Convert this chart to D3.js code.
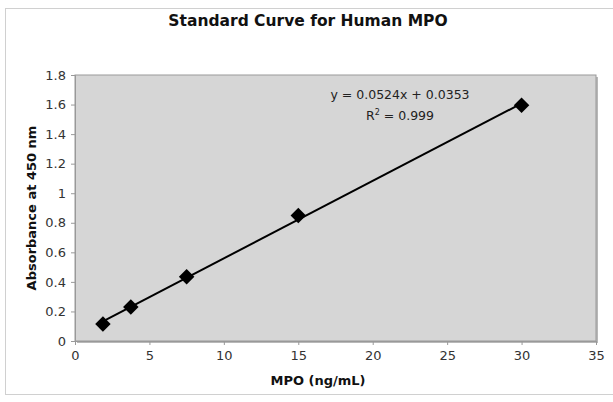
<!DOCTYPE html>
<html>
<head>
<meta charset="utf-8">
<script src="https://cdn.jsdelivr.net/npm/d3@7"></script>
<style>
  body { margin: 0; background: #fff; }
  text { font-family: "DejaVu Sans", Verdana, sans-serif; }
</style>
</head>
<body>
<svg id="svg" width="613" height="402"></svg>
<script>
// standard concentrations and measured absorbance
var conc = [1.875, 3.75, 7.5, 15, 30];
var absorb = [0.115, 0.23, 0.435, 0.85, 1.595];
var xTicks = [0, 5, 10, 15, 20, 25, 30, 35];
var yTicks = [0, 0.2, 0.4, 0.6, 0.8, 1, 1.2, 1.4, 1.6, 1.8];
var slope = 0.0524, intercept = 0.0353;

var svg = d3.select("#svg");
var L = 75, R = 596, T = 75, B = 341;

var x = d3.scaleLinear().domain([0, 35]).range([L, R]);
var y = d3.scaleLinear().domain([0, 1.8]).range([B, T]);

// chart frame
svg.append("rect")
    .attr("x", 5.5).attr("y", 8.5)
    .attr("width", 620).attr("height", 386)
    .attr("fill", "#fff")
    .attr("stroke", "#d0d0d0");

// plot area
svg.append("rect")
    .attr("x", L + 2).attr("y", T + 2)
    .attr("width", R - L).attr("height", B - T)
    .attr("fill", "#b8b8b8");
svg.append("rect")
    .attr("x", L).attr("y", T)
    .attr("width", R - L).attr("height", B - T)
    .attr("fill", "#d6d6d6")
    .attr("stroke", "#999")
    .attr("stroke-width", 1);

// axes
var xAxis = svg.append("g")
    .attr("transform", "translate(0," + B + ")")
    .call(d3.axisBottom(x).tickValues(xTicks).tickSize(4).tickPadding(6));
var yAxis = svg.append("g")
    .attr("transform", "translate(" + L + ",0)")
    .call(d3.axisLeft(y).tickValues(yTicks).tickSize(4).tickPadding(5)
        .tickFormat(d3.format("~g")));
[xAxis, yAxis].forEach((g) => {
    g.select(".domain").attr("stroke", "#999");
    g.selectAll(".tick line").attr("stroke", "#999");
    g.selectAll(".tick text")
        .attr("fill", "#333")
        .style("font-size", "13px");
});

// trendline over the data range
var ext = d3.extent(conc);
svg.append("line")
    .attr("x1", x(ext[0])).attr("y1", y(slope * ext[0] + intercept))
    .attr("x2", x(ext[1])).attr("y2", y(slope * ext[1] + intercept))
    .attr("stroke", "#000")
    .attr("stroke-width", 2);

// diamond markers
svg.append("g").selectAll("path")
    .data(conc)
    .enter()
    .append("path")
    .attr("d", d3.symbol().type(d3.symbolSquare).size(120))
    .attr("transform", (d, i) => "translate(" + x(d) + "," + y(absorb[i]) + ") rotate(45)")
    .attr("fill", "#000");

// title and labels
svg.append("text")
    .attr("x", 308).attr("y", 26)
    .attr("text-anchor", "middle")
    .style("font-size", "15.5px").style("font-weight", "bold")
    .attr("fill", "#111")
    .text("Standard Curve for Human MPO");

svg.append("text")
    .attr("x", 318).attr("y", 385)
    .attr("text-anchor", "middle")
    .style("font-size", "13px").style("font-weight", "bold")
    .attr("fill", "#111")
    .text("MPO (ng/mL)");

svg.append("text")
    .attr("transform", "translate(36," + ((T + B) / 2) + ") rotate(-90)")
    .attr("text-anchor", "middle")
    .style("font-size", "13px").style("font-weight", "bold")
    .attr("fill", "#111")
    .text("Absorbance at 450 nm");

// equation
svg.append("text")
    .attr("x", 400).attr("y", 99)
    .attr("text-anchor", "middle")
    .style("font-size", "12.5px")
    .attr("fill", "#222")
    .text("y = 0.0524x + 0.0353");
var r2 = svg.append("text")
    .attr("x", 400).attr("y", 120)
    .attr("text-anchor", "middle")
    .style("font-size", "12.5px")
    .attr("fill", "#222");
r2.append("tspan").text("R");
r2.append("tspan").attr("dy", -5).style("font-size", "8px").text("2");
r2.append("tspan").attr("dy", 5).text(" = 0.999");
</script>
</body>
</html>
